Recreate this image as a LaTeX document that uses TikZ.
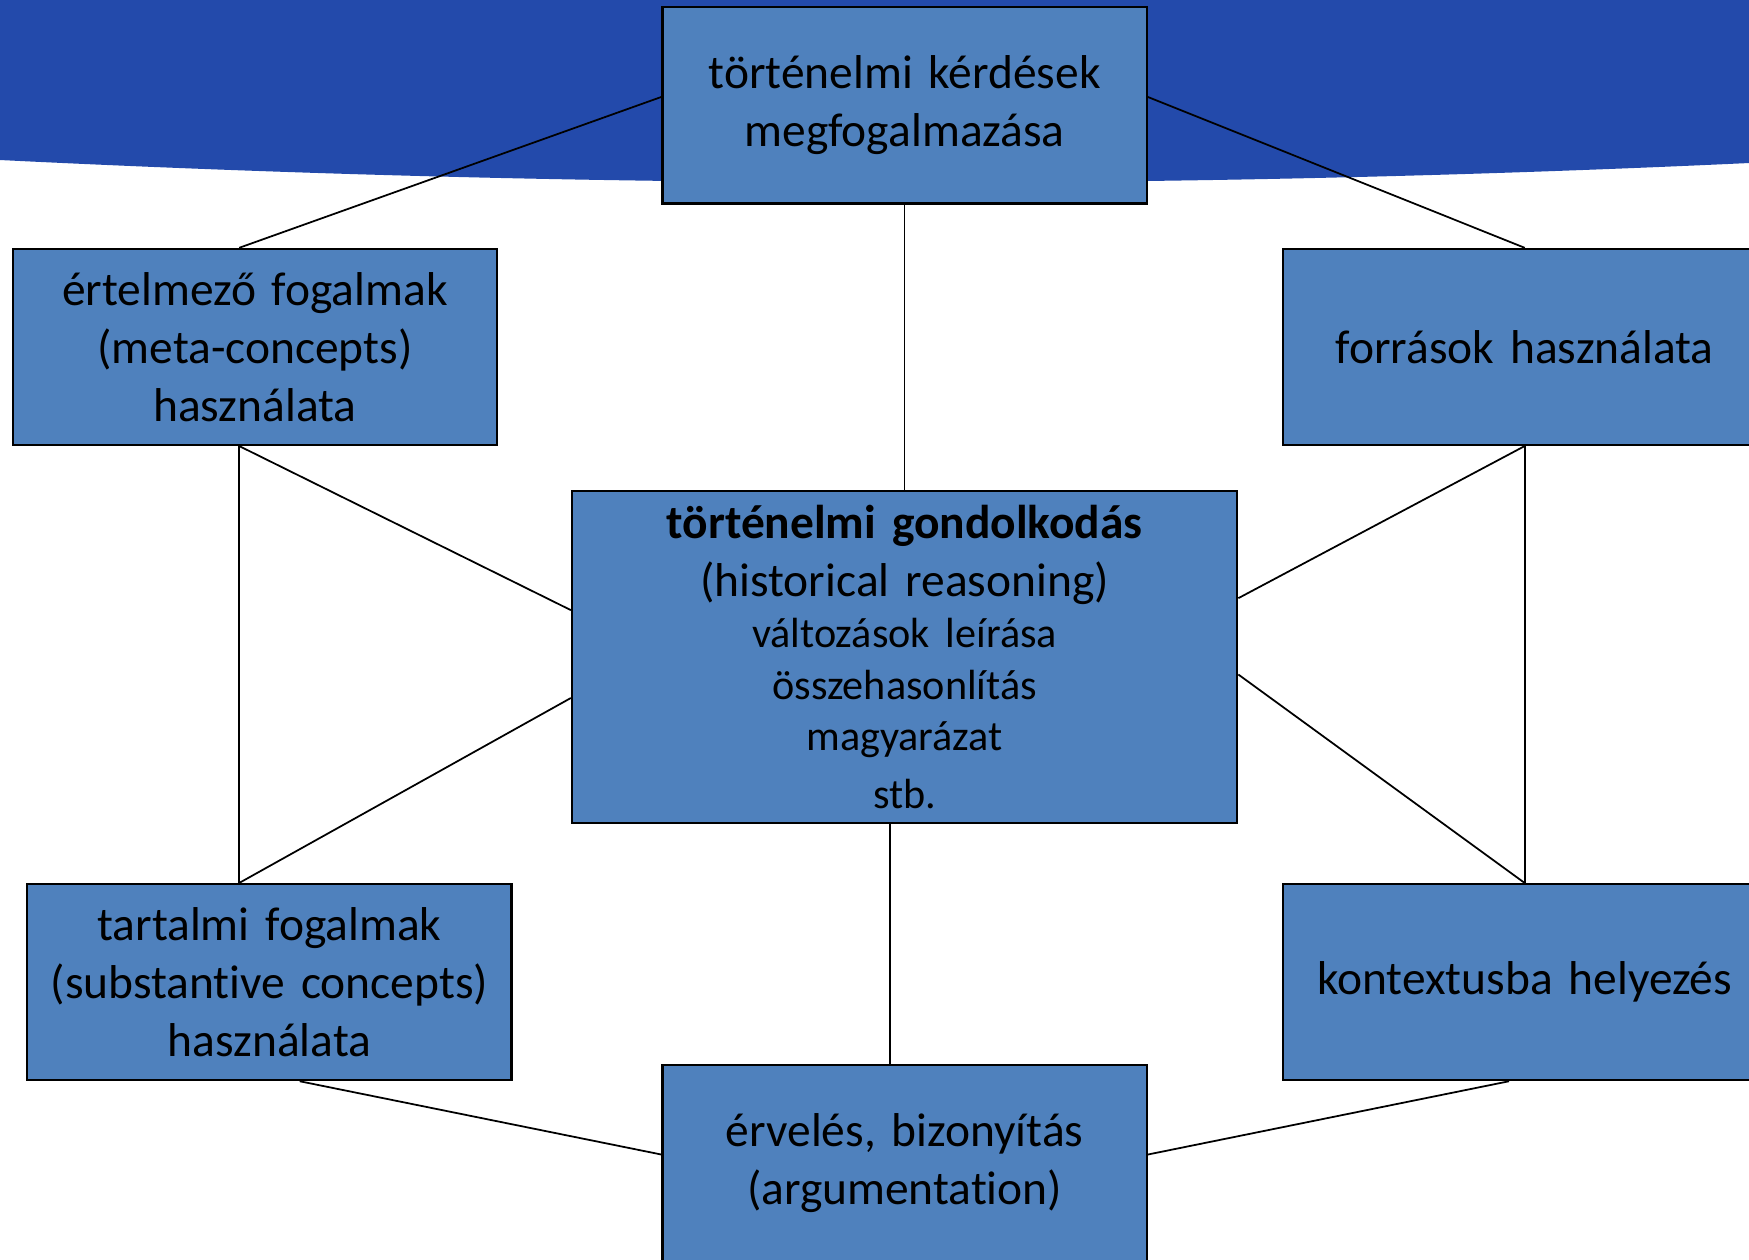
\documentclass[tikz,border=0pt]{standalone}
\usepackage{fontspec}
\setmainfont{Carlito}[Ligatures={NoCommon,NoContextual}, Contextuals=NoAlternate]
\definecolor{bandblue}{RGB}{35,74,171}
\definecolor{boxblue}{RGB}{79,129,189}
\tikzset{
  skill/.style={draw=black, line width=0.6pt, fill=boxblue, align=center,
    inner sep=0pt, text width=4.84cm, minimum height=1.96cm,
    font=\fontsize{13.5}{16.5}\selectfont},
  link/.style={draw=black, line width=0.5pt},
}

\begin{document}
\begin{tikzpicture}[x=0.01cm, y=-0.01cm]
  \useasboundingbox (0,0) rectangle (1749,1259);
  \clip (0,0) rectangle (1749,1259);
  % blue band at the top
  \fill[bandblue] (0,0) -- (0,160) .. controls (587,189) and (1170,190) .. (1749,163) -- (1749,0) -- cycle;

  \node[skill] (kerd) at (904.6,105.4) {történelmi kérdések\\megfogalmazása};
  \node[skill] (ertelm) at (254.9,346.9) {értelmező fogalmak\\(meta-concepts)\\használata};
  \node[skill] (forras) at (1524.7,346.9) {források használata};
  \node[skill, text width=6.65cm, minimum height=3.32cm] (gond) at (904.6,657) {%
    \textbf{történelmi gondolkodás}\\(historical reasoning)\par
    \fontsize{12}{14.6}\selectfont változások leírása\\összehasonlítás\\magyarázat\\stb.};
  \node[skill] (tartalmi) at (269.4,982.1) {tartalmi fogalmak\\(substantive concepts)\\használata};
  \node[skill] (kontext) at (1524.7,982.1) {kontextusba helyezés};
  \node[skill] (erv) at (904.6,1163) {érvelés, bizonyítás\\(argumentation)};

  \begin{scope}[link]
    \draw (kerd.178) -- (ertelm.99);
    \draw (kerd.2) -- (forras.north);
    \draw (kerd.south) -- (gond.north);
    \draw (ertelm.261) -- (gond.172.2);
    \draw (ertelm.261) -- (ertelm.261 |- tartalmi.north);
    \draw (tartalmi.107) -- (gond.187.8);
    \draw (forras.south) -- (gond.10.3);
    \draw (forras.south) -- (kontext.north);
    \draw (kontext.north) -- (gond.357.3);
    \draw (gond.265) -- (erv.north -| gond.265);
    \draw (tartalmi.287) -- (erv.178);
    \draw (kontext.261) -- (erv.2);
  \end{scope}
\end{tikzpicture}
\end{document}
